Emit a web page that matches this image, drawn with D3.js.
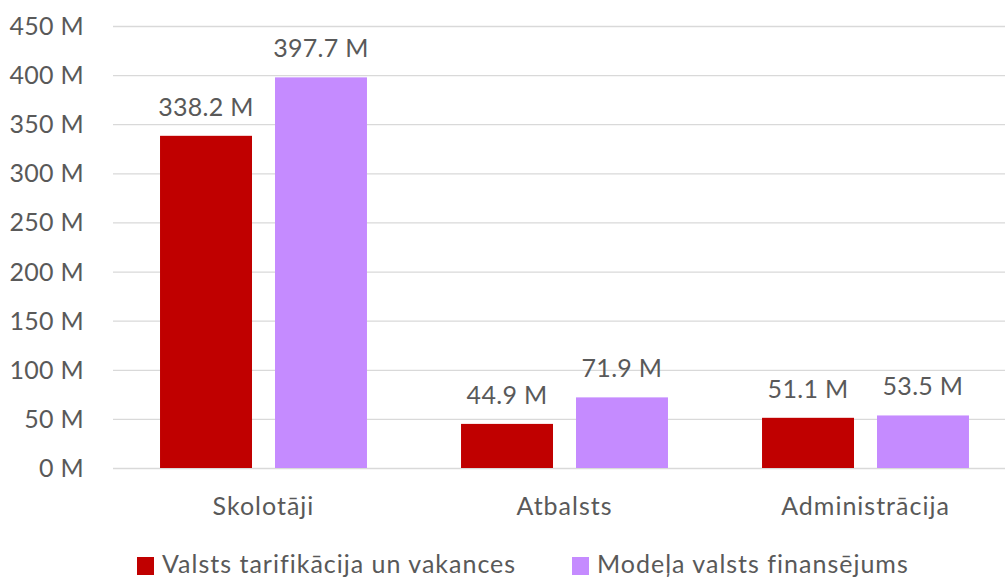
<!DOCTYPE html>
<html>
<head>
<meta charset="utf-8">
<script src="https://cdn.jsdelivr.net/npm/d3@7"></script>
<style>
  body { margin: 0; background: #fff; }
  text { font-family: Lato, "Open Sans", sans-serif; fill: #595959; font-size: 25px; }
</style>
</head>
<body>
<div id="chart"></div>
<script>
const categories = ["Skolotāji", "Atbalsts", "Administrācija"];
const seriesNames = ["Valsts tarifikācija un vakances", "Modeļa valsts finansējums"];
const tarifikacija = [338.2, 44.9, 51.1];
const modelis = [397.7, 71.9, 53.5];
const yTicks = [0, 50, 100, 150, 200, 250, 300, 350, 400, 450];
const colors = ["#C00000", "#C58BFF"];

const width = 1005, height = 579;
const plotLeft = 113, plotRight = 1016, plotTop = 26, plotBottom = 468;

const svg = d3.select("#chart").append("svg")
  .attr("width", width).attr("height", height);

const x = d3.scaleBand().domain(categories).range([plotLeft, plotRight]);
const xs = d3.scaleBand().domain([0, 1]).range([0, x.bandwidth()]).paddingInner(0.2).paddingOuter(0.409);
const y = d3.scaleLinear().domain([0, 450]).range([plotBottom, plotTop]);

// gridlines
svg.append("g").selectAll("line").data(yTicks).join("line")
  .attr("x1", plotLeft).attr("x2", plotRight)
  .attr("y1", d => y(d) + 0.5).attr("y2", d => y(d) + 0.5)
  .attr("stroke", "#D9D9D9").attr("stroke-width", 1.3);

// y labels
svg.append("g").selectAll("text").data(yTicks).join("text")
  .attr("x", 84).attr("y", d => y(d))
  .attr("dy", "0.36em").attr("text-anchor", "end")
  .style("letter-spacing", "0.3px")
  .text(d => d + " M");

const rows = categories.map((c, i) => ({ cat: c, vals: [tarifikacija[i], modelis[i]] }));

const groups = svg.append("g").selectAll("g").data(rows).join("g")
  .attr("transform", d => `translate(${x(d.cat)},0)`);

groups.selectAll("rect").data(d => d.vals.map((v, k) => ({ v, k }))).join("rect")
  .attr("x", d => xs(d.k)).attr("width", xs.bandwidth())
  .attr("y", d => y(d.v)).attr("height", d => plotBottom - y(d.v))
  .attr("fill", d => colors[d.k]);

groups.selectAll("text.val").data(d => d.vals.map((v, k) => ({ v, k }))).join("text")
  .attr("class", "val")
  .attr("x", d => xs(d.k) + xs.bandwidth() / 2)
  .attr("y", d => y(d.v) - 20)
  .attr("text-anchor", "middle")
  .style("letter-spacing", "0.3px")
  .text(d => d.v.toFixed(1) + " M");

// category labels
svg.append("g").selectAll("text").data(categories).join("text")
  .attr("x", d => x(d) + x.bandwidth() / 2).attr("y", 515)
  .attr("text-anchor", "middle")
  .style("letter-spacing", "1px")
  .text(d => d);

// legend
const legendX = [137, 572];
const leg = svg.append("g").selectAll("g").data(seriesNames).join("g")
  .attr("transform", (d, i) => `translate(${legendX[i]},557)`);
leg.append("rect").attr("width", 17).attr("height", 18).attr("fill", (d, i) => colors[i]);
leg.append("text").attr("x", 25).attr("y", 16)
  .style("letter-spacing", "1px").text(d => d);
</script>
</body>
</html>
